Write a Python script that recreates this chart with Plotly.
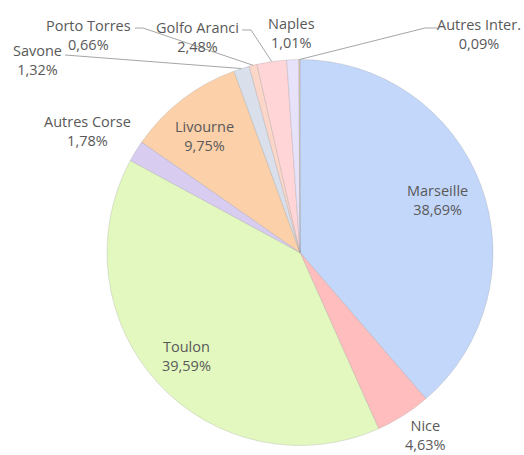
import math
import plotly.graph_objects as go

# ---- data ----
labels = ["Marseille", "Nice", "Toulon", "Autres Corse", "Livourne",
          "Savone", "Porto Torres", "Golfo Aranci", "Naples", "Autres Inter."]
values = [38.69, 4.63, 39.59, 1.78, 9.75, 1.32, 0.66, 2.48, 1.01, 0.09]
pct_text = ["38,69%", "4,63%", "39,59%", "1,78%", "9,75%",
            "1,32%", "0,66%", "2,48%", "1,01%", "0,09%"]
colors = ["#c3d7fb", "#ffbdbd", "#e3f8bf", "#d8ccf0", "#fcd0a9",
          "#d9e0eb", "#fcd6c9", "#ffd5d8", "#e7e1f9", "#e2c8a6"]

W, H = 524, 455
CX, CY, R = 300.0, 252.5, 193.0

# label anchor positions (pixels, center of the two-line block)
label_pos = {
    "Marseille": (437, 200),
    "Nice": (425, 435),
    "Toulon": (186, 356),
    "Autres Corse": (87, 131),
    "Livourne": (204, 136),
    "Savone": (37, 60),
    "Porto Torres": (88, 35),
    "Golfo Aranci": (197, 37),
    "Naples": (291, 33),
    "Autres Inter.": (479, 34),
}
# leader-line start points near the label text (pixels)
leader_start = {
    "Savone": [(65, 55)],
    "Porto Torres": [(135, 28), (143, 28)],
    "Golfo Aranci": [(242, 30), (251, 30)],
    "Autres Inter.": [(438, 28), (425, 28)],
}


def px2paper(x, y):
    return x / W, 1 - y / H


fig = go.Figure()
fig.add_trace(go.Pie(
    labels=labels, values=values, sort=False, direction="clockwise",
    rotation=0, textinfo="none", hoverinfo="label+percent",
    marker=dict(colors=colors, line=dict(color="rgba(150,150,150,0.45)", width=0.6)),
    domain=dict(x=[(CX - R) / W, (CX + R) / W], y=[1 - (CY + R) / H, 1 - (CY - R) / H]),
    showlegend=False,
))

total = sum(values)
cum = 0.0
annotations = []
shapes = []
font = dict(family="Open Sans, Liberation Sans, sans-serif", size=14.5, color="#595959")
for lab, v, t in zip(labels, values, pct_text):
    mid = (cum + v / 2) / total * 2 * math.pi
    cum += v
    lx, ly = label_pos[lab]
    ax, ay = px2paper(lx, ly)
    annotations.append(dict(x=ax, y=ay, xref="paper", yref="paper",
                            xanchor="center", yanchor="middle",
                            text=f"{lab}<br>{t}", showarrow=False,
                            font=font, align="center"))
    if lab in leader_start:
        ex = CX + R * math.sin(mid)
        ey = CY - R * math.cos(mid)
        pts = leader_start[lab] + [(ex, ey)]
        for (x0, y0), (x1, y1) in zip(pts[:-1], pts[1:]):
            p0 = px2paper(x0, y0)
            p1 = px2paper(x1, y1)
            shapes.append(dict(type="line", xref="paper", yref="paper",
                               x0=p0[0], y0=p0[1], x1=p1[0], y1=p1[1],
                               line=dict(color="#a6a6a6", width=1)))

fig.update_layout(
    width=W, height=H, margin=dict(l=0, r=0, t=0, b=0),
    paper_bgcolor="white", plot_bgcolor="white",
    annotations=annotations, shapes=shapes,
)
fig.write_html("out.html", config={"displayModeBar": False},
               post_script="document.body.style.margin='0';")
